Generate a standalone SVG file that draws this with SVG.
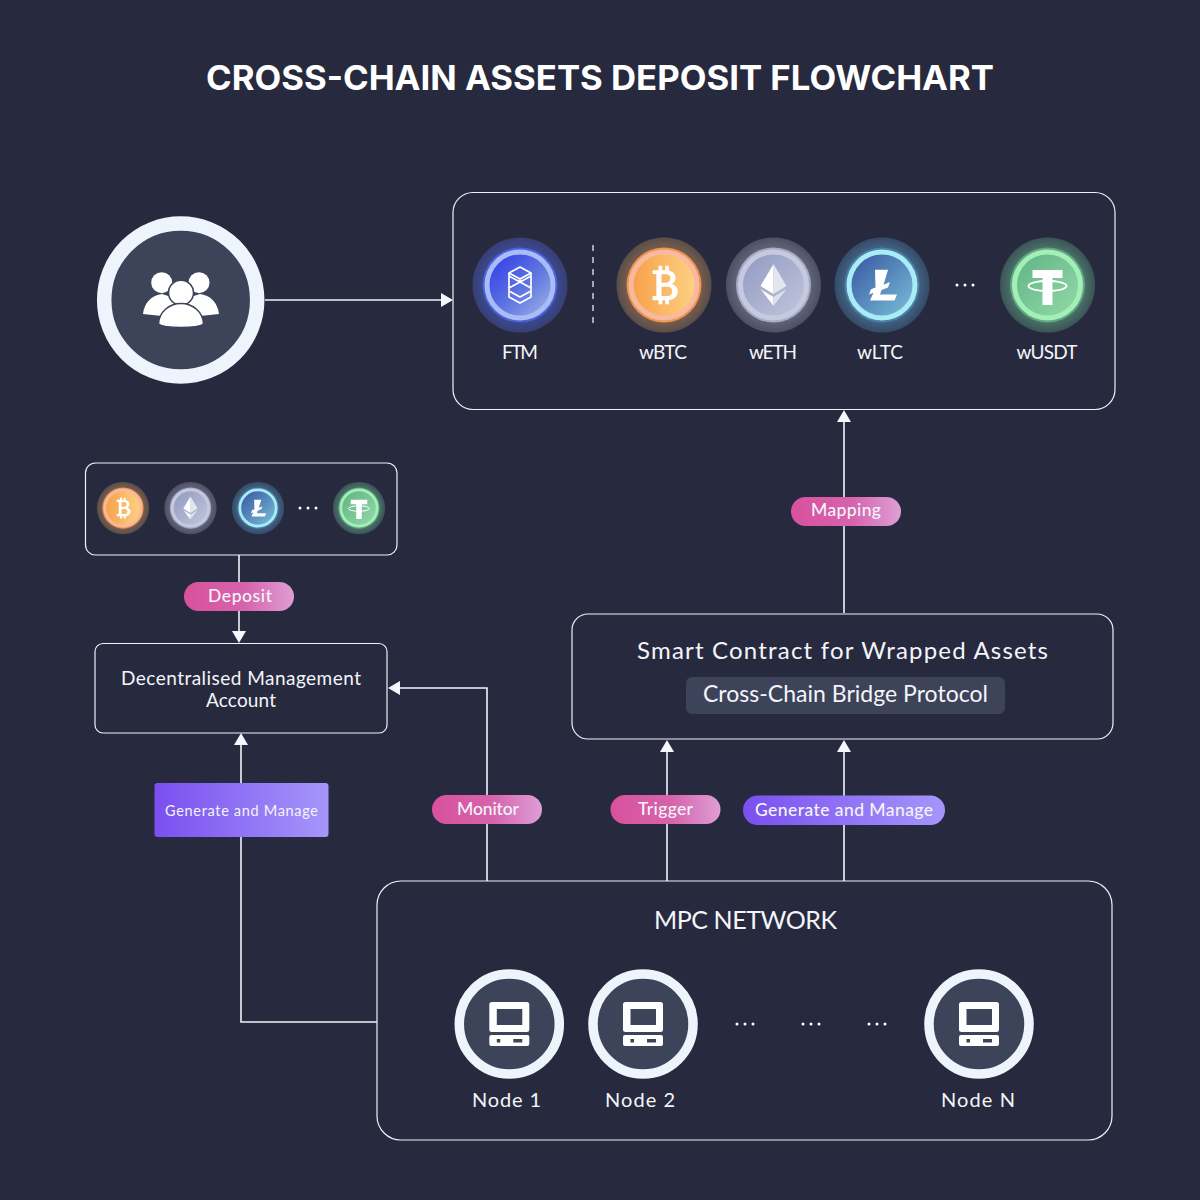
<svg xmlns="http://www.w3.org/2000/svg" width="1200" height="1200" viewBox="0 0 1200 1200">
<style>
.box{fill:none;stroke:#eef1f8;stroke-width:1.2}
.line{fill:none;stroke:#f2f4fa;stroke-width:1.6}
.ring{fill:#3d4358;stroke:#eef4fc}
.ic{fill:#fff}
text{font-family:"Lato","Noto Sans",sans-serif;fill:#f4f5fa;text-anchor:middle}
.title{font-family:"Inter","Open Sans",sans-serif;font-weight:700;font-size:34px;fill:#fff}
.coin{font-size:19px}
.lab{font-size:20px}
.big{font-size:24px}
.pill{font-size:17.5px;font-weight:500}
</style>
<defs>
<marker id="arr" viewBox="0 0 12 14" refX="0" refY="7" markerWidth="12" markerHeight="14" markerUnits="userSpaceOnUse" orient="auto"><path d="M0 0L12 7L0 14Z" fill="#f6f7fb"/></marker>
<linearGradient id="pink"><stop offset="0" stop-color="#d9519d"/><stop offset=".55" stop-color="#d663ab"/><stop offset="1" stop-color="#de9ed6"/></linearGradient>
<linearGradient id="purple"><stop offset="0" stop-color="#7a4fef"/><stop offset="1" stop-color="#a596fb"/></linearGradient>
<linearGradient id="gF" x1="0" y1="0" x2="1" y2="1"><stop offset="0" stop-color="#2a35e8"/><stop offset=".55" stop-color="#5f76e0"/><stop offset="1" stop-color="#a9b9e8"/></linearGradient>
<linearGradient id="gB" x1="0" y1="0" x2="1" y2="0"><stop offset="0" stop-color="#f7a04a"/><stop offset="1" stop-color="#fdd283"/></linearGradient>
<linearGradient id="gE" x1="0" y1="0" x2="1" y2="1"><stop offset="0" stop-color="#8f98c0"/><stop offset="1" stop-color="#c3c8dd"/></linearGradient>
<linearGradient id="gL" x1="0" y1="0" x2="1" y2="1"><stop offset="0" stop-color="#34529f"/><stop offset="1" stop-color="#7cc3da"/></linearGradient>
<linearGradient id="gT" x1="0" y1="0" x2="1" y2="1"><stop offset="0" stop-color="#5fb284"/><stop offset="1" stop-color="#95dba8"/></linearGradient>
<radialGradient id="hF"><stop offset=".6" stop-color="#3f50a6"/><stop offset="1" stop-color="#373f74"/></radialGradient>
<radialGradient id="hB"><stop offset=".6" stop-color="#8a6a4e"/><stop offset="1" stop-color="#5b4d4a"/></radialGradient>
<radialGradient id="hE"><stop offset=".6" stop-color="#70748a"/><stop offset="1" stop-color="#4d5064"/></radialGradient>
<radialGradient id="hL"><stop offset=".6" stop-color="#4a7596"/><stop offset="1" stop-color="#354a68"/></radialGradient>
<radialGradient id="hT"><stop offset=".6" stop-color="#558873"/><stop offset="1" stop-color="#3b5457"/></radialGradient>
<g id="cF">
<circle r="47.500" fill="url(#hF)"/><circle r="37.500" fill="#4a62d8"/><circle r="33" fill="url(#gF)" stroke="#a9bcf8" stroke-width="5"/>
<path d="M0-18L11-12V12L0 18L-11 12V-12ZM-11-12L0-6L11-12M-11-9L11 3M11-9L-11 3M-11 6L0 12L11 6M0-6V-3" fill="none" stroke="#fff" stroke-width="1.700" stroke-linejoin="round"/>
</g>
<g id="cB">
<circle r="47.500" fill="url(#hB)"/><circle r="37.500" fill="#ef9550"/><circle r="33" fill="url(#gB)" stroke="#f9b9a0" stroke-width="5"/>
<path fill-rule="evenodd" class="ic" transform="translate(-1 0) scale(.74)" d="M-14-20H-6V-26H-1V-20H3V-26H8V-19.500C14-18 17-14 17-9.500C17-6 15-3 12-1.500C17 0 20 4 20 8.500C20 15 15 20 8 20.500V26H3V20.500H-1V26H-6V20.500H-14V15H-9V-15H-14ZM-2-14.500V-3H4C8-3 10-6 10-9C10-12.500 8-14.500 4-14.500ZM-2 2.500V15H6C10 15 12.500 12 12.500 8.500C12.500 5 10 2.500 6 2.500Z"/>
</g>
<g id="cE">
<circle r="47.500" fill="url(#hE)"/><circle r="37.500" fill="#a7abc6"/><circle r="33" fill="url(#gE)" stroke="#c6cae0" stroke-width="5"/>
<path d="M0-21L-13 1L0 9Z" fill="#fff"/><path d="M0-21L13 1L0 9Z" fill="#e4e6ee"/><path d="M-13 4L0 21V12Z" fill="#fafafc"/><path d="M13 4L0 21V12Z" fill="#dfe1ea"/>
</g>
<g id="cL">
<circle r="47.500" fill="url(#hL)"/><circle r="37.500" fill="#4d7ea6"/><circle r="33" fill="url(#gL)" stroke="#a8ecf6" stroke-width="5"/>
<path class="ic" transform="translate(0 -2) scale(1 .88)" d="M-7-15H6L1.500 2L8-1L6 5L-0.500 8L-2 13H15L12.500 20H-12L-8.500 11L-13 13L-11 7L-6.500 5Z"/>
</g>
<g id="cT">
<circle r="47.500" fill="url(#hT)"/><circle r="37.500" fill="#63a685"/><circle r="33" fill="url(#gT)" stroke="#a2efb7" stroke-width="5"/>
<path class="ic" d="M-15-15H15V-7H5V20H-5V-7H-15Z"/>
<ellipse cx="0" cy="1" rx="19" ry="5" fill="none" stroke="#fff" stroke-width="1.800"/>
</g>
<g id="comp">
<path class="ic" fill-rule="evenodd" d="M-17.500-22H17.500A2.500 2.500 0 0 1 20-19.500V5.500A2.500 2.500 0 0 1 17.500 8H-17.500A2.500 2.500 0 0 1 -20 5.500V-19.500A2.500 2.500 0 0 1 -17.500-22ZM-12.500-15V1H13V-15Z"/>
<path class="ic" fill-rule="evenodd" d="M-18 11H18A2 2 0 0 1 20 13V20A2 2 0 0 1 18 22H-18A2 2 0 0 1 -20 20V13A2 2 0 0 1 -18 11ZM-12.500 15V18.500H-9V15ZM4 15V18.500H13V15Z"/>
</g>
<g id="dots"><circle cx="-8" r="1.500" fill="#fff"/><circle r="1.500" fill="#fff"/><circle cx="8" r="1.500" fill="#fff"/></g>
</defs>
<rect width="1200" height="1200" fill="#272a3e"/>
<text class="title" x="600" y="90" textLength="788" lengthAdjust="spacingAndGlyphs">CROSS-CHAIN ASSETS DEPOSIT FLOWCHART</text>

<g id="connectors">
<path class="line" d="M265 300H441" marker-end="url(#arr)"/>
<path class="line" d="M844 613V422" marker-end="url(#arr)"/>
<path class="line" d="M239 555V631" marker-end="url(#arr)"/>
<path class="line" d="M377 1022H241V745" marker-end="url(#arr)"/>
<path class="line" d="M487 881V688H400" marker-end="url(#arr)"/>
<path class="line" d="M667 881V752" marker-end="url(#arr)"/>
<path class="line" d="M844 881V752" marker-end="url(#arr)"/>
</g>

<g id="users">
<circle class="ring" cx="180.700" cy="300" r="76.500" stroke-width="14.500"/>
<circle class="ic" cx="161.700" cy="282.700" r="10.500"/><circle class="ic" cx="199" cy="282.700" r="10.500"/>
<path class="ic" d="M143 314C144 303 152 295 162 294L181 300L200 294C210 295 218 303 219 314L200 316H162Z"/>
<circle class="ic" cx="181" cy="292.700" r="12.500" stroke="#3d4358" stroke-width="1.500"/>
<path class="ic" stroke="#3d4358" stroke-width="1.500" d="M158.500 324C159 312 169 303.500 181 303.500C193 303.500 203 312 203.500 324C197 328.500 165 328.500 158.500 324Z"/>
</g>

<g id="assets">
<rect class="box" x="453" y="192.500" width="662" height="217" rx="20"/>
<use href="#cF" x="520" y="285"/>
<path d="M593 245V326" stroke="#e8eaf2" stroke-width="1.300" stroke-dasharray="6 6" fill="none"/>
<use href="#cB" x="664" y="285"/>
<use href="#cE" x="773.500" y="285"/>
<use href="#cL" x="882" y="285"/>
<use href="#dots" x="965" y="285"/>
<use href="#cT" x="1047.500" y="285"/>
<text class="coin" x="520" y="358.500" textLength="36">FTM</text>
<text class="coin" x="663" y="358.500" textLength="48">wBTC</text>
<text class="coin" x="773" y="358.500" textLength="48">wETH</text>
<text class="coin" x="880" y="358.500" textLength="46">wLTC</text>
<text class="coin" x="1047" y="358.500" textLength="61">wUSDT</text>
</g>

<g id="source-assets">
<rect class="box" x="85.500" y="463" width="311.500" height="92" rx="10"/>
<use href="#cB" transform="translate(123 508) scale(.55)"/>
<use href="#cE" transform="translate(190.500 508) scale(.55)"/>
<use href="#cL" transform="translate(258 508) scale(.55)"/>
<use href="#dots" x="308" y="508"/>
<use href="#cT" transform="translate(359 508) scale(.55)"/>
</g>

<g id="account">
<rect class="box" x="95" y="643.500" width="292" height="89.500" rx="8"/>
<text class="coin" x="241" y="685" textLength="240">Decentralised Management</text>
<text class="coin" x="241" y="707" textLength="70">Account</text>
</g>

<g id="contract">
<rect class="box" x="572" y="614" width="541" height="125" rx="16"/>
<text class="big" x="842.500" y="659" textLength="411">Smart Contract for Wrapped Assets</text>
<rect x="686" y="677" width="319" height="37" rx="6" fill="#3d4358"/>
<text class="big" x="845.500" y="702" font-size="23" style="font-size:23px" textLength="285">Cross-Chain Bridge Protocol</text>
</g>

<g id="mapping"><rect x="791" y="497" width="110" height="29" rx="14.500" fill="url(#pink)"/><text class="pill" x="846" y="516" textLength="70">Mapping</text></g>
<g id="deposit"><rect x="184" y="582" width="110" height="29" rx="14.500" fill="url(#pink)"/><text class="pill" x="240" y="602" textLength="64">Deposit</text></g>
<g id="monitor"><rect x="432" y="795" width="110" height="29" rx="14.500" fill="url(#pink)"/><text class="pill" x="488" y="815" textLength="62">Monitor</text></g>
<g id="trigger"><rect x="610.500" y="795" width="110" height="29" rx="14.500" fill="url(#pink)"/><text class="pill" x="665.500" y="815" textLength="55">Trigger</text></g>
<g id="generate-right"><rect x="743" y="795.500" width="202" height="29.500" rx="14.700" fill="url(#purple)"/><text class="pill" x="844" y="816" textLength="178">Generate and Manage</text></g>
<g id="generate-left"><rect x="154.500" y="783" width="174" height="54" rx="3" fill="url(#purple)"/><text x="241.500" y="816" font-size="14.500" textLength="153">Generate and Manage</text></g>

<g id="mpc">
<rect class="box" x="377" y="881" width="735" height="259" rx="24"/>
<text x="745.500" y="929" font-size="25" textLength="183">MPC NETWORK</text>
<use href="#dots" x="745" y="1024"/><use href="#dots" x="811" y="1024"/><use href="#dots" x="877" y="1024"/>
</g>
<g id="node1"><circle class="ring" cx="509.300" cy="1024" r="50" stroke-width="9.500"/><use href="#comp" x="509.300" y="1024"/><text class="lab" x="506.500" y="1107" textLength="69">Node 1</text></g>
<g id="node2"><circle class="ring" cx="643" cy="1024" r="50" stroke-width="9.500"/><use href="#comp" x="643" y="1024"/><text class="lab" x="640" y="1107" textLength="70">Node 2</text></g>
<g id="nodeN"><circle class="ring" cx="979" cy="1024" r="50" stroke-width="9.500"/><use href="#comp" x="979" y="1024"/><text class="lab" x="978" y="1107" textLength="74">Node N</text></g>
</svg>
